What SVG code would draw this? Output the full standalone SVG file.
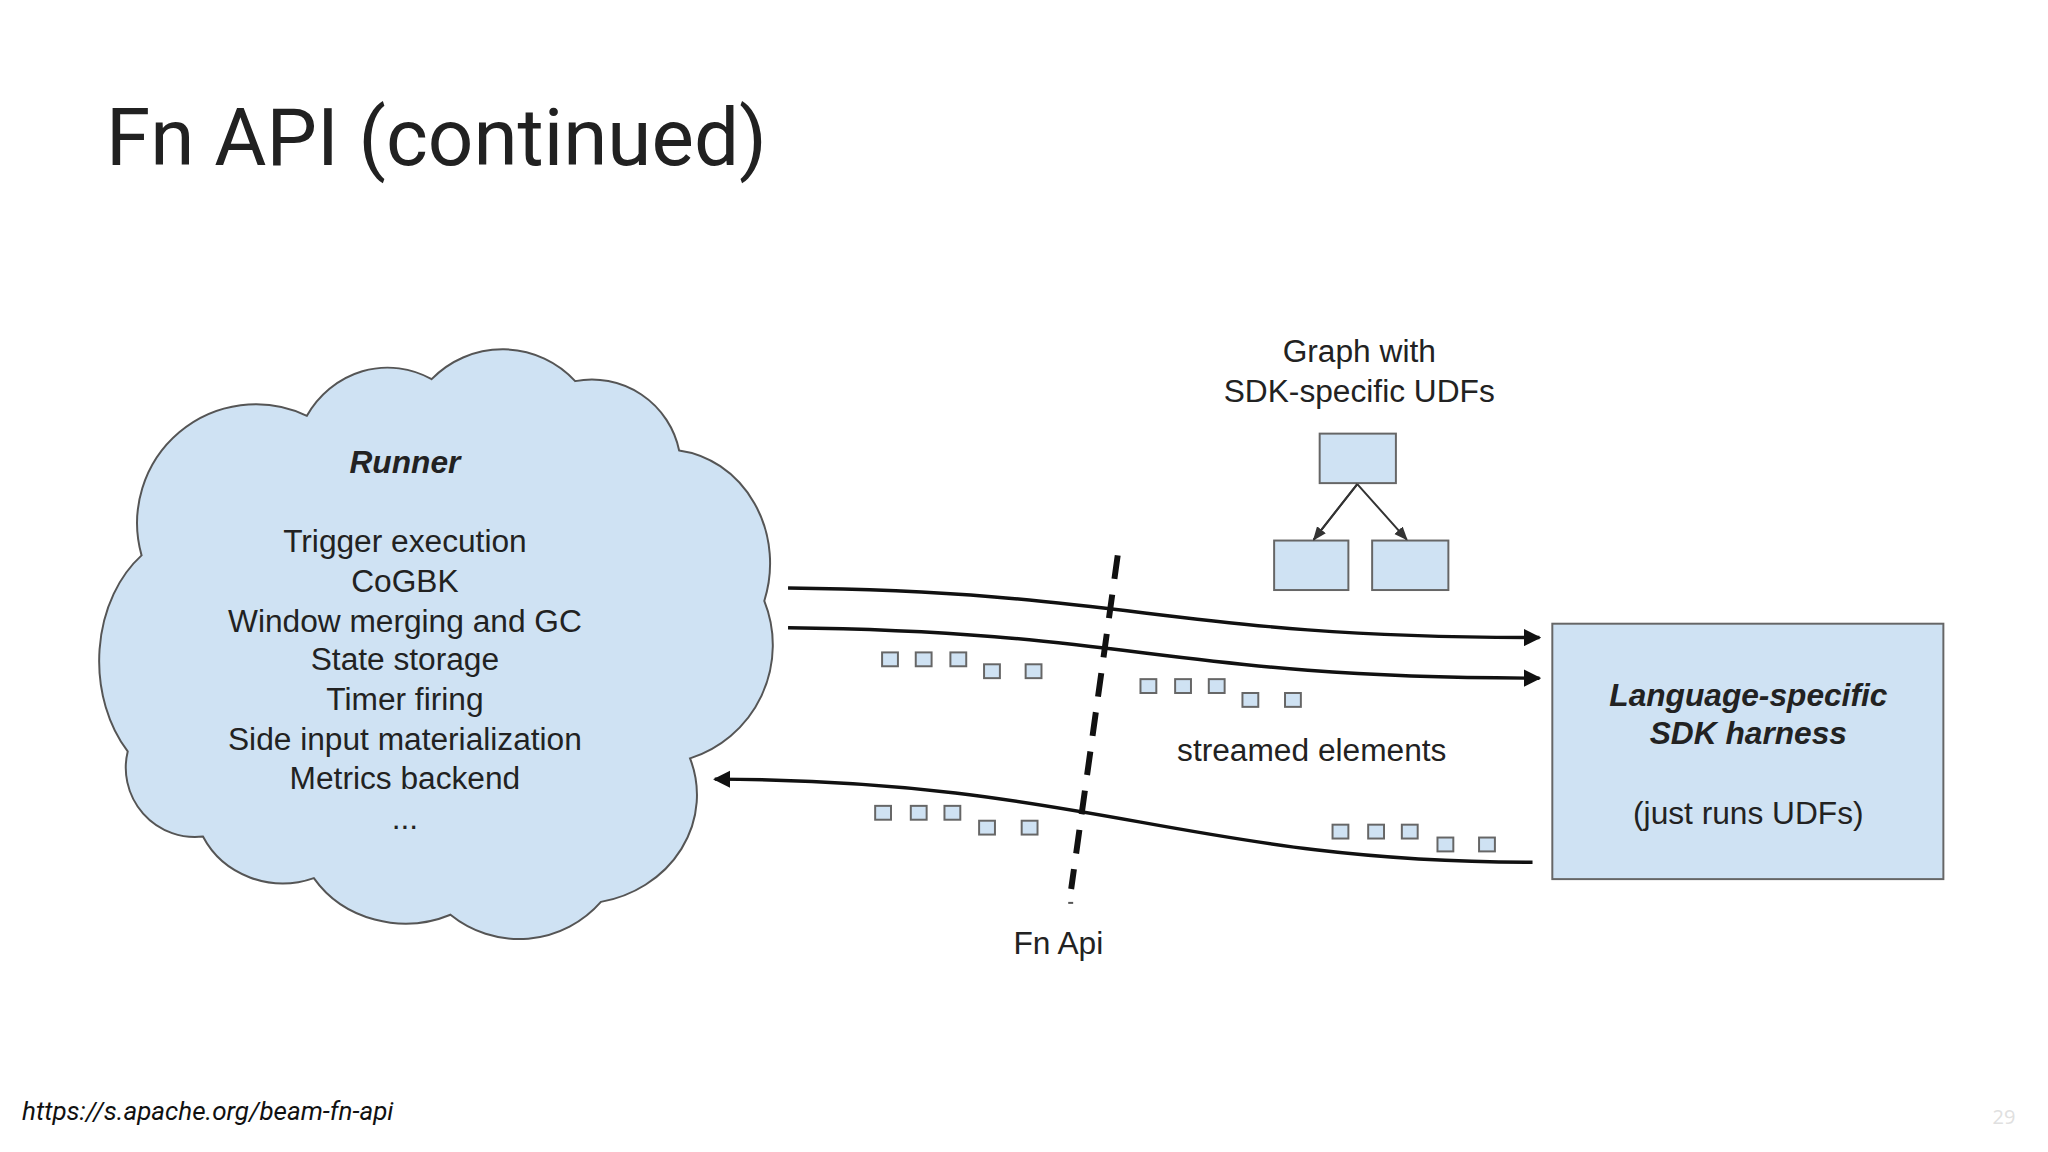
<svg xmlns="http://www.w3.org/2000/svg" width="2048" height="1152" viewBox="0 0 2048 1152">
<defs>
<style>
.t{font-family:"Liberation Sans",Arial,sans-serif;fill:#222;text-anchor:middle}
.c{font-size:32px}
.bi{font-weight:bold;font-style:italic}
.sq{fill:#cfe2f3;stroke:#666;stroke-width:2}
.bx{fill:#cfe2f3;stroke:#666;stroke-width:2}
.ln{fill:none;stroke:#111;stroke-width:3.5}
</style>
<marker id="ah" viewBox="0 0 10 10" refX="9" refY="5" markerWidth="5" markerHeight="5" orient="auto"><path d="M0,0L10,5L0,10z" fill="#111"/></marker>
<marker id="sa" viewBox="0 0 10 10" refX="9" refY="5" markerWidth="7" markerHeight="7" orient="auto"><path d="M0,1L10,5L0,9z" fill="#333"/></marker>
</defs>
<rect width="2048" height="1152" fill="#fff"/>
<text x="106" y="165" font-family="Roboto,'Liberation Sans',sans-serif" font-size="80" fill="#212121">Fn API (continued)</text>
<g transform="scale(0.99)">
<g id="runner">
<path d="M143,561 A120,120 0 0 1 310,420 A95,100 0 0 1 436,383 A100,100 0 0 1 581,385 A90,90 0 0 1 686,455 A105,115 0 0 1 772,607 A120,120 0 0 1 697,766 A120,110 0 0 1 607,911 A110,110 0 0 1 455,924 A110,100 0 0 1 317,887 A90,85 0 0 1 205,845 A70,70 0 0 1 129,759 A100,130 0 0 1 143,561 Z" fill="#cfe2f3" stroke="#555" stroke-width="2"/>
<text class="t c bi" x="409" y="478" font-size="30">Runner</text>
<text class="t c" x="409" y="558">Trigger execution</text>
<text class="t c" x="409" y="598">CoGBK</text>
<text class="t c" x="409" y="638">Window merging and GC</text>
<text class="t c" x="409" y="677">State storage</text>
<text class="t c" x="409" y="717">Timer firing</text>
<text class="t c" x="409" y="758">Side input materialization</text>
<text class="t c" x="409" y="797">Metrics backend</text>
<text class="t c" x="409" y="837">...</text>
</g>
<g id="graph">
<text class="t c" x="1373" y="366">Graph with</text>
<text class="t c" x="1373" y="406">SDK-specific UDFs</text>
<rect class="bx" x="1333" y="438" width="77" height="50"/>
<rect class="bx" x="1287" y="546" width="75" height="50"/>
<rect class="bx" x="1386" y="546" width="77" height="50"/>
</g>
<g id="harness">
<rect class="bx" x="1568" y="630" width="395" height="258"/>
<text class="t c bi" x="1766" y="713">Language-specific</text>
<text class="t c bi" x="1766" y="752">SDK harness</text>
<text class="t c" x="1766" y="832">(just runs UDFs)</text>
</g>
<g id="connectors">
<path d="M1371,489L1327,545M1371,489L1421,545" fill="none" stroke="#333" stroke-width="2" marker-end="url(#sa)"/>
<path d="M1371,489L1327,545" fill="none" stroke="#333" stroke-width="2" marker-end="url(#sa)"/>
<path class="ln" d="M796,594 C1150,598 1180,644 1555,644" marker-end="url(#ah)"/>
<path class="ln" d="M796,634 C1150,638 1180,685 1555,685" marker-end="url(#ah)"/>
<path class="ln" d="M1548,871 C1200,871 1100,788 722,787" marker-end="url(#ah)"/>
<path d="M1129,561 L1082,898" stroke="#111" stroke-width="6" stroke-dasharray="24,16" fill="none"/>
<rect x="1079" y="911" width="5" height="2" fill="#555"/>
</g>
<g id="elements">
<rect class="sq" x="891" y="659" width="16" height="14"/><rect class="sq" x="925" y="659" width="16" height="14"/><rect class="sq" x="960" y="659" width="16" height="14"/><rect class="sq" x="994" y="671" width="16" height="14"/><rect class="sq" x="1036" y="671" width="16" height="14"/>
<rect class="sq" x="1152" y="686" width="16" height="14"/><rect class="sq" x="1187" y="686" width="16" height="14"/><rect class="sq" x="1221" y="686" width="16" height="14"/><rect class="sq" x="1255" y="700" width="16" height="14"/><rect class="sq" x="1298" y="700" width="16" height="14"/>
<rect class="sq" x="884" y="814" width="16" height="14"/><rect class="sq" x="920" y="814" width="16" height="14"/><rect class="sq" x="954" y="814" width="16" height="14"/><rect class="sq" x="989" y="829" width="16" height="14"/><rect class="sq" x="1032" y="829" width="16" height="14"/>
<rect class="sq" x="1346" y="833" width="16" height="14"/><rect class="sq" x="1382" y="833" width="16" height="14"/><rect class="sq" x="1416" y="833" width="16" height="14"/><rect class="sq" x="1452" y="846" width="16" height="14"/><rect class="sq" x="1494" y="846" width="16" height="14"/>
</g>
<text class="t c" x="1325" y="769">streamed elements</text>
<text class="t c" x="1069" y="964">Fn Api</text>
</g>
<text x="22" y="1120" font-family="Roboto,'Liberation Sans',sans-serif" font-style="italic" font-size="26" fill="#111">https://s.apache.org/beam-fn-api</text>
<text x="2004" y="1124" font-family="'Open Sans',sans-serif" font-size="20" fill="#e0e0e0" text-anchor="middle">29</text>
</svg>
